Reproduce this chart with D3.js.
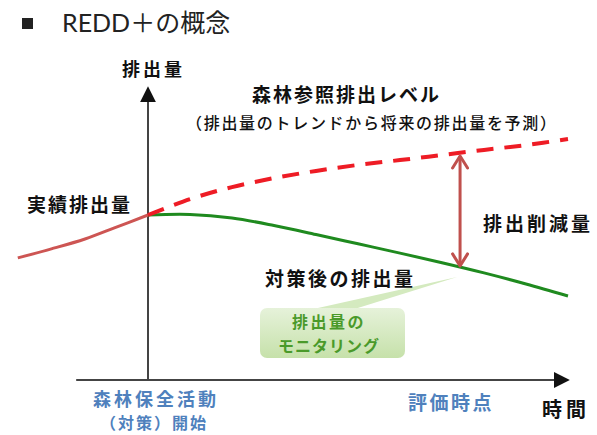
<!DOCTYPE html>
<html>
<head>
<meta charset="utf-8">
<script src="https://cdn.jsdelivr.net/npm/d3@7"></script>
<style>
  body { margin: 0; background: #fff; }
  text { font-family: "Noto Sans CJK JP", "Noto Sans", sans-serif; }
</style>
</head>
<body>
<div id="chart"></div>
<script>
var svgWidth = 597;
var svgHeight = 435;

// time axis: 0 = start of forest conservation activity
var pastTime = [-3.1, -2.3, -1.5, -0.8, 0];
var pastEmission = [4.07, 4.37, 4.7, 5.07, 5.5];

var futureTime = [0, 1, 2, 3, 4, 5, 6, 7, 8, 9, 10];
var referenceLevel = [5.5, 6.03, 6.43, 6.73, 6.97, 7.17, 7.33, 7.5, 7.67, 7.83, 8.03];
var afterMeasures = [5.5, 5.52, 5.4, 5.15, 4.85, 4.54, 4.23, 3.91, 3.57, 3.2, 2.8];

var evalTime = 7.43;
var reductionRange = [7.5, 3.77];  // reference level -> actual at evaluation
var axisExtentX = [-1.71, 10.12];
var axisExtentY = [0, 9.9];

var svg = d3.select("#chart")
    .append("svg")
    .attr("width", svgWidth)
    .attr("height", svgHeight);

var x = d3.scaleLinear().domain([0, 10]).range([148, 568]);
var y = d3.scaleLinear().domain([0, 10]).range([380, 80]);

var defs = svg.append("defs");
defs.append("marker")
    .attr("id", "axisHead")
    .attr("viewBox", "0 0 10 10")
    .attr("refX", 2).attr("refY", 5)
    .attr("markerWidth", 8).attr("markerHeight", 8)
    .attr("markerUnits", "strokeWidth")
    .attr("orient", "auto")
    .append("path")
    .attr("d", "M0,0 L10,5 L0,10 Z")
    .attr("fill", "#111");

["start", "end"].forEach(function (k) {
    defs.append("marker")
        .attr("id", "chev-" + k)
        .attr("viewBox", "0 0 12 12")
        .attr("refX", 10).attr("refY", 6)
        .attr("markerWidth", 6).attr("markerHeight", 6)
        .attr("markerUnits", "strokeWidth")
        .attr("orient", k == "start" ? "auto-start-reverse" : "auto")
        .append("path")
        .attr("d", "M2,1 L10,6 L2,11")
        .attr("fill", "none")
        .attr("stroke", "#c0504d")
        .attr("stroke-width", 2)
        .attr("stroke-linecap", "round")
        .attr("stroke-linejoin", "round");
});

var grad = defs.append("linearGradient")
    .attr("id", "boxFill")
    .attr("x1", 0).attr("y1", 0).attr("x2", 0).attr("y2", 1);
grad.append("stop").attr("offset", "0%").attr("stop-color", "#e6f2da");
grad.append("stop").attr("offset", "100%").attr("stop-color", "#c6e1aa");

// title
svg.append("rect")
    .attr("x", 22).attr("y", 18).attr("width", 11).attr("height", 11)
    .attr("fill", "#222");
svg.append("text")
    .attr("x", 62).attr("y", 32)
    .style("font-family", "Lato, 'Noto Sans CJK JP', sans-serif")
    .style("font-size", "25px")
    .attr("fill", "#222")
    .text("REDD＋の概念");

// axes
svg.append("line")
    .attr("x1", x(axisExtentX[0])).attr("y1", y(0))
    .attr("x2", x(axisExtentX[1]) - 16).attr("y2", y(0))
    .attr("stroke", "#444").attr("stroke-width", 2)
    .attr("marker-end", "url(#axisHead)");
svg.append("line")
    .attr("x1", x(0)).attr("y1", y(0))
    .attr("x2", x(0)).attr("y2", y(axisExtentY[1]) + 16)
    .attr("stroke", "#444").attr("stroke-width", 2)
    .attr("marker-end", "url(#axisHead)");

var line = d3.line().curve(d3.curveCatmullRom);

// callout pointer and box
var tip = [x(7.36), y(3.43)];
svg.append("path")
    .attr("d", "M" + 300 + "," + 312 + "L" + tip[0] + "," + tip[1] + "L" + 345 + "," + 312 + "Z")
    .attr("fill", "#d4eabf");
svg.append("rect")
    .attr("x", 260).attr("y", 308).attr("width", 145).attr("height", 50)
    .attr("rx", 7)
    .attr("fill", "url(#boxFill)");

// past emissions
svg.append("path")
    .attr("d", line(pastTime.map(function (t, i) { return [x(t), y(pastEmission[i])]; })))
    .attr("fill", "none")
    .attr("stroke", "#cd5553")
    .attr("stroke-width", 3);

// after measures
svg.append("path")
    .attr("d", line(futureTime.map(function (t, i) { return [x(t), y(afterMeasures[i])]; })))
    .attr("fill", "none")
    .attr("stroke", "#1f8a1f")
    .attr("stroke-width", 3);

// reference level
svg.append("path")
    .attr("d", line(futureTime.map(function (t, i) { return [x(t), y(referenceLevel[i])]; })))
    .attr("fill", "none")
    .attr("stroke", "#ee1c25")
    .attr("stroke-width", 4)
    .attr("stroke-dasharray", "17,11");

// reduction arrow
svg.append("line")
    .attr("x1", x(evalTime)).attr("y1", y(reductionRange[0]) + 1)
    .attr("x2", x(evalTime)).attr("y2", y(reductionRange[1]) - 1)
    .attr("stroke", "#c0504d")
    .attr("stroke-width", 3)
    .attr("marker-start", "url(#chev-start)")
    .attr("marker-end", "url(#chev-end)");

// labels
function label(txt, px, py, opts) {
    opts = opts || {};
    svg.append("text")
        .attr("x", px).attr("y", py)
        .attr("text-anchor", opts.anchor || "start")
        .attr("dominant-baseline", "central")
        .style("font-size", (opts.size || 19) + "px")
        .style("font-weight", opts.weight || 700)
        .style("letter-spacing", (opts.ls == null ? 2 : opts.ls) + "px")
        .attr("fill", opts.color || "#111")
        .text(txt);
}

label("排出量", 122, 68, { size: 18, ls: 3 });
label("森林参照排出レベル", 252, 93);
label("（排出量のトレンドから将来の排出量を予測）", 186, 122, { size: 16, ls: 1.7, weight: 500 });
label("実績排出量", 27, 203);
label("排出削減量", 483, 222, { ls: 3 });
label("対策後の排出量", 265, 277, { ls: 2.5 });
label("排出量の", 292, 321, { size: 16, ls: 2.5, color: "#4a9a2a" });
label("モニタリング", 278, 345, { size: 16, ls: 1, color: "#4a9a2a" });
label("森林保全活動", 93, 398, { size: 18, ls: 3, color: "#4f81bd" });
label("（対策）開始", 100, 422, { size: 16, ls: 2, color: "#4f81bd" });
label("評価時点", 408, 401, { ls: 2.5, color: "#4f81bd" });
label("時間", 542, 408, { size: 20, ls: 4 });
</script>
</body>
</html>
